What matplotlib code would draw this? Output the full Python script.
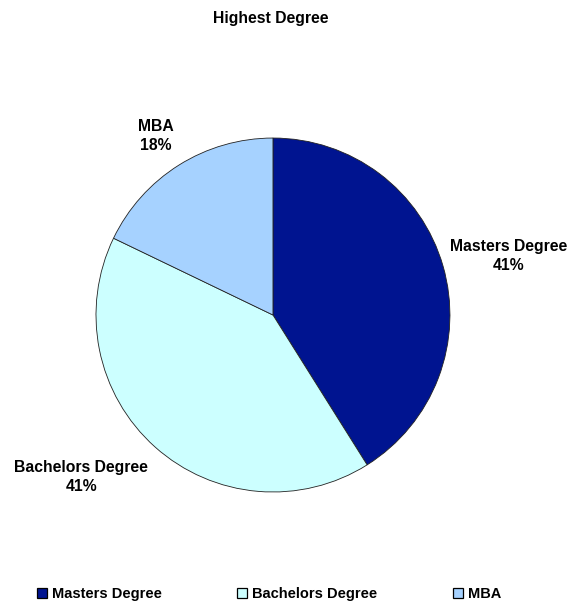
import numpy as np
import matplotlib.pyplot as plt
from matplotlib.patches import Patch

plt.rcParams['font.family'] = ['Liberation Sans', 'DejaVu Sans']
plt.rcParams['font.weight'] = 'bold'

# data
degrees = ['Masters Degree', 'Bachelors Degree', 'MBA']
counts = [23, 23, 10]
colors = ['#001490', '#CCFFFF', '#A6D2FF']

fig = plt.figure(figsize=(5.70, 6.01), dpi=100)
ax = fig.add_axes([0, 0, 1, 1])

wedges, _ = ax.pie(counts, colors=colors, startangle=90, counterclock=False,
                   radius=1.0, wedgeprops=dict(edgecolor='#222222', linewidth=0.6))

# pie() resets the limits, so set them afterwards
ax.set_xlim(-1.542, 1.678)
ax.set_ylim(-1.616, 1.780)
ax.set_aspect('equal')
ax.axis('off')

# label placement: distance from centre and angle tweak per slice
label_dist = [1.37, 1.42, 1.21]
label_tweak = [-2, -8, 1]
total = sum(counts)
for w, name, c, d, t in zip(wedges, degrees, counts, label_dist, label_tweak):
    mid = np.deg2rad((w.theta1 + w.theta2) / 2 + t)
    pct = 100 * c / total
    ax.text(d * np.cos(mid), d * np.sin(mid), f'{name}\n{pct:.0f}%',
            ha='center', va='center', fontsize=11.3, fontweight='bold',
            linespacing=1.3)

fig.text(271 / 570, 1 - 19 / 601, 'Highest Degree', ha='center', va='center',
         fontsize=11.3, fontweight='bold')

# legend: three equal-width entries along the bottom
leg_x = [37 / 570, 237 / 570, 453 / 570]
for x, name, col in zip(leg_x, degrees, colors):
    h = Patch(facecolor=col, edgecolor='black', linewidth=0.9)
    leg = fig.legend([h], [name], loc='center left',
                     bbox_to_anchor=(x, 1 - 594 / 601), frameon=False,
                     handlelength=0.7, handleheight=0.75, handletextpad=0.3,
                     borderpad=0, borderaxespad=0,
                     prop=dict(size=10.5, weight='bold'))

fig.savefig('out.png', dpi=100)
